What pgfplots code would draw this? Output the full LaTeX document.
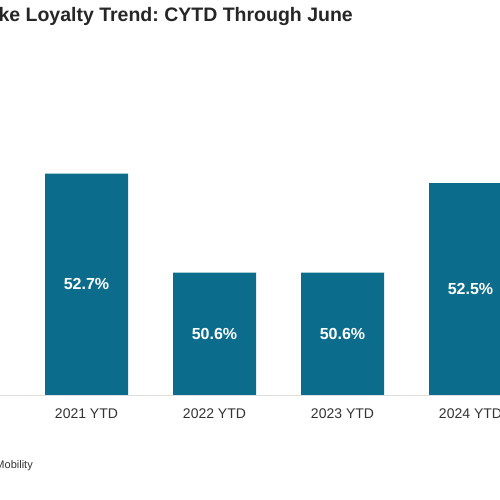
\documentclass[border=0pt]{standalone}
\usepackage{pgfplots}
\pgfplotsset{compat=1.18}
\usepackage{fontspec}
\setmainfont{Liberation Sans}
\frenchspacing
\definecolor{barteal}{HTML}{0B6D8B}
\begin{document}
\begin{tikzpicture}[x=1pt,y=1pt]
\fill[white] (0,0) rectangle (500,500);
\begin{scope}
\clip (0,0) rectangle (500,500);
\begin{axis}[
  at={(-169.5pt,105pt)}, anchor=south west,
  scale only axis, width=704pt, height=376.8pt,
  xmin=-1, xmax=4.5, ymin=48, ymax=56,
  ybar, bar width=83pt, bar shift=0pt,
  hide y axis,
  axis x line*=bottom,
  x axis line style={draw=gray!25, line width=0.6pt},
  xtick={0,1,2,3,4},
  xticklabels={2020 YTD,2021 YTD,2022 YTD,2023 YTD,2024 YTD},
  major tick length=0pt,
  /pgf/number format/assume math mode=true,
  xticklabel style={font=\fontsize{14}{16}\selectfont, text=black!80, anchor=center, yshift=-19pt},
  nodes near coords={\pgfmathprintnumber[fixed,precision=1,fixed zerofill,assume math mode=true]{\pgfplotspointmeta}\%},
  visualization depends on={rawy \as \ry},
  every node near coord/.append style={anchor=center, text=white, font=\bfseries\fontsize{16}{18}\selectfont, yshift={-(\ry-48)*23.55}},
  clip=false,
]
\addplot[fill=barteal, draw=none] coordinates {(0,55.0) (1,52.7) (2,50.6) (3,50.6) (4,52.5)};
\end{axis}
\node[anchor=base east, font=\bfseries\fontsize{19.5}{22}\selectfont, text=black!85, inner sep=0pt] at (353,478) {Make Loyalty Trend: CYTD Through June};
\node[anchor=base east, font=\fontsize{11}{13}\selectfont, text=black!80, inner sep=0pt] at (33,31) {Source: S\&P Global Mobility};
\end{scope}
\pgfresetboundingbox
\useasboundingbox (0,0) rectangle (500,500);
\end{tikzpicture}
\end{document}
